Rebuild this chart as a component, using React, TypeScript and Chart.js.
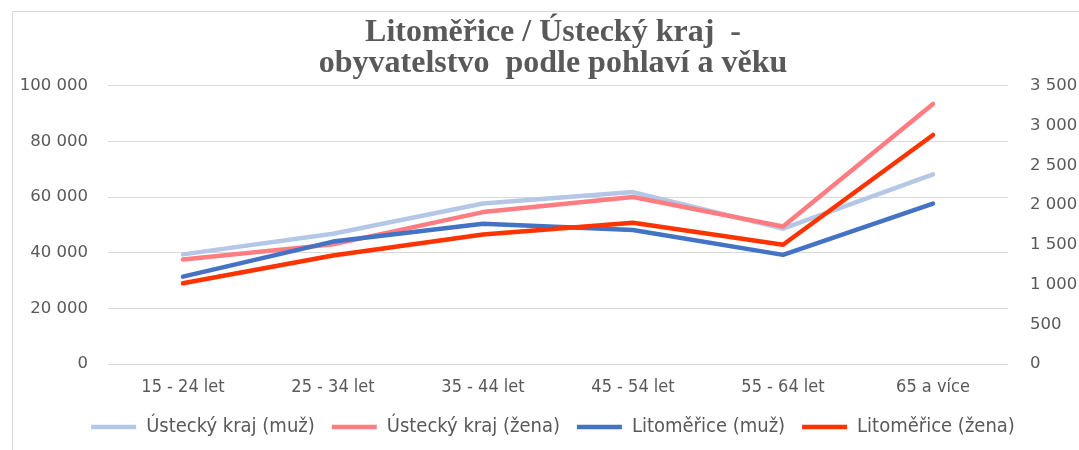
import React, { useEffect, useRef } from "react";
import { Chart, registerables } from "chart.js";

Chart.register(...registerables);

const categories = ["15 - 24 let", "25 - 34 let", "35 - 44 let", "45 - 54 let", "55 - 64 let", "65 a více"];
const ustiMuz = [39400, 46800, 57700, 61800, 48650, 68150];
const ustiZena = [37550, 43000, 54600, 60000, 49450, 93500];
const litMuz = [1099, 1540, 1765, 1685, 1373, 2018];
const litZena = [1015, 1365, 1630, 1778, 1500, 2881];
const titleLines = ["Litoměřice / Ústecký kraj  -", "obyvatelstvo  podle pohlaví a věku"];
const seriesNames = ["Ústecký kraj (muž)", "Ústecký kraj (žena)", "Litoměřice (muž)", "Litoměřice (žena)"];

const fmt = (v: number | string) => String(v).replace(/\B(?=(\d{3})+(?!\d))/g, " ");

function pickNarrow(): { family: string; narrow: boolean } {
  const c = document.createElement("canvas").getContext("2d");
  const candidates = ["DejaVu Sans Condensed", "Liberation Sans Narrow", "Roboto Condensed", "Noto Sans Condensed"];
  if (c) {
    const sample = "Ústecký kraj (muž) 15 - 24 let";
    for (const fam of candidates) {
      c.font = `18px monospace`;
      const w1 = c.measureText(sample).width;
      c.font = `18px "${fam}", monospace`;
      const w2 = c.measureText(sample).width;
      if (Math.abs(w1 - w2) > 0.5) return { family: `"${fam}"`, narrow: true };
    }
  }
  return { family: "'Liberation Sans', Arial, sans-serif", narrow: false };
}

export default function App() {
  const ref = useRef<HTMLCanvasElement | null>(null);
  useEffect(() => {
    if (!ref.current) return;
    const nf = pickNarrow();
    const tickSize = nf.narrow ? 18 : 17;
    const legendSize = nf.narrow ? 20 : 18;
    const mk = (label: string, data: number[], color: string, axis: string, order: number) => ({
      label,
      data,
      borderColor: color,
      backgroundColor: color,
      borderWidth: 4.5,
      borderCapStyle: "round" as const,
      borderJoinStyle: "round" as const,
      pointRadius: 0,
      pointHoverRadius: 0,
      pointStyle: "line" as const,
      tension: 0,
      yAxisID: axis,
      order,
    });
    const chart = new Chart(ref.current, {
      type: "line",
      data: {
        labels: categories,
        datasets: [
          mk(seriesNames[0], ustiMuz, "#B4C7E7", "y", 4),
          mk(seriesNames[1], ustiZena, "#FF7C80", "y", 3),
          mk(seriesNames[2], litMuz, "#4472C4", "y1", 2),
          mk(seriesNames[3], litZena, "#FF3300", "y1", 1),
        ],
      },
      options: {
        animation: false,
        responsive: false,
        layout: { padding: { left: 0, right: 0, top: 0, bottom: 3 } },
        plugins: {
          title: {
            display: true,
            text: titleLines,
            color: "#595959",
            font: { family: "'Liberation Serif', 'Times New Roman', serif", size: 32, weight: "bold", lineHeight: 0.95 },
            padding: { top: 18, bottom: 7 },
          },
          legend: {
            position: "bottom",
            labels: {
              usePointStyle: true,
              pointStyleWidth: 45,
              padding: 17,
              color: "#595959",
              font: { family: nf.family, size: legendSize },
              sort: (a: any, b: any) => a.datasetIndex - b.datasetIndex,
            },
          },
          tooltip: { enabled: false },
        },
        scales: {
          x: {
            offset: true,
            grid: { display: false, drawTicks: false },
            border: { display: false },
            ticks: {
              padding: 13,
              color: "#595959",
              font: { family: nf.family, size: tickSize },
            },
            afterFit: (s: any) => { s.height = 36; },
          },
          y: {
            position: "left",
            min: 0,
            max: 100000,
            grid: { color: "#D9D9D9", lineWidth: 1, drawTicks: false },
            border: { display: false },
            ticks: {
              stepSize: 20000,
              padding: 20,
              color: "#595959",
              font: { family: "'DejaVu Sans', sans-serif", size: 16.5 },
              callback: (v: any) => fmt(v),
            },
            afterFit: (s: any) => { s.width = 108; },
          },
          y1: {
            position: "right",
            min: 0,
            max: 3500,
            grid: { display: false, drawOnChartArea: false, drawTicks: false },
            border: { display: false },
            ticks: {
              stepSize: 500,
              padding: 22,
              color: "#595959",
              font: { family: "'DejaVu Sans', sans-serif", size: 16.5 },
              callback: (v: any) => fmt(v),
            },
            afterFit: (s: any) => { s.width = 98; },
          },
        },
      },
    } as any);
    return () => chart.destroy();
  }, []);
  return (
    <div style={{ position: "fixed", left: 0, top: 0, width: 1079, height: 450, overflow: "hidden", background: "#fff" }}>
      <div
        style={{
          position: "absolute",
          left: 12,
          top: 11,
          width: 1100,
          height: 460,
          border: "1px solid #D9D9D9",
          boxSizing: "border-box",
        }}
      />
      <canvas ref={ref} width={1106} height={450} style={{ position: "absolute", left: 0, top: 0, width: 1106, height: 450 }} />
    </div>
  );
}
